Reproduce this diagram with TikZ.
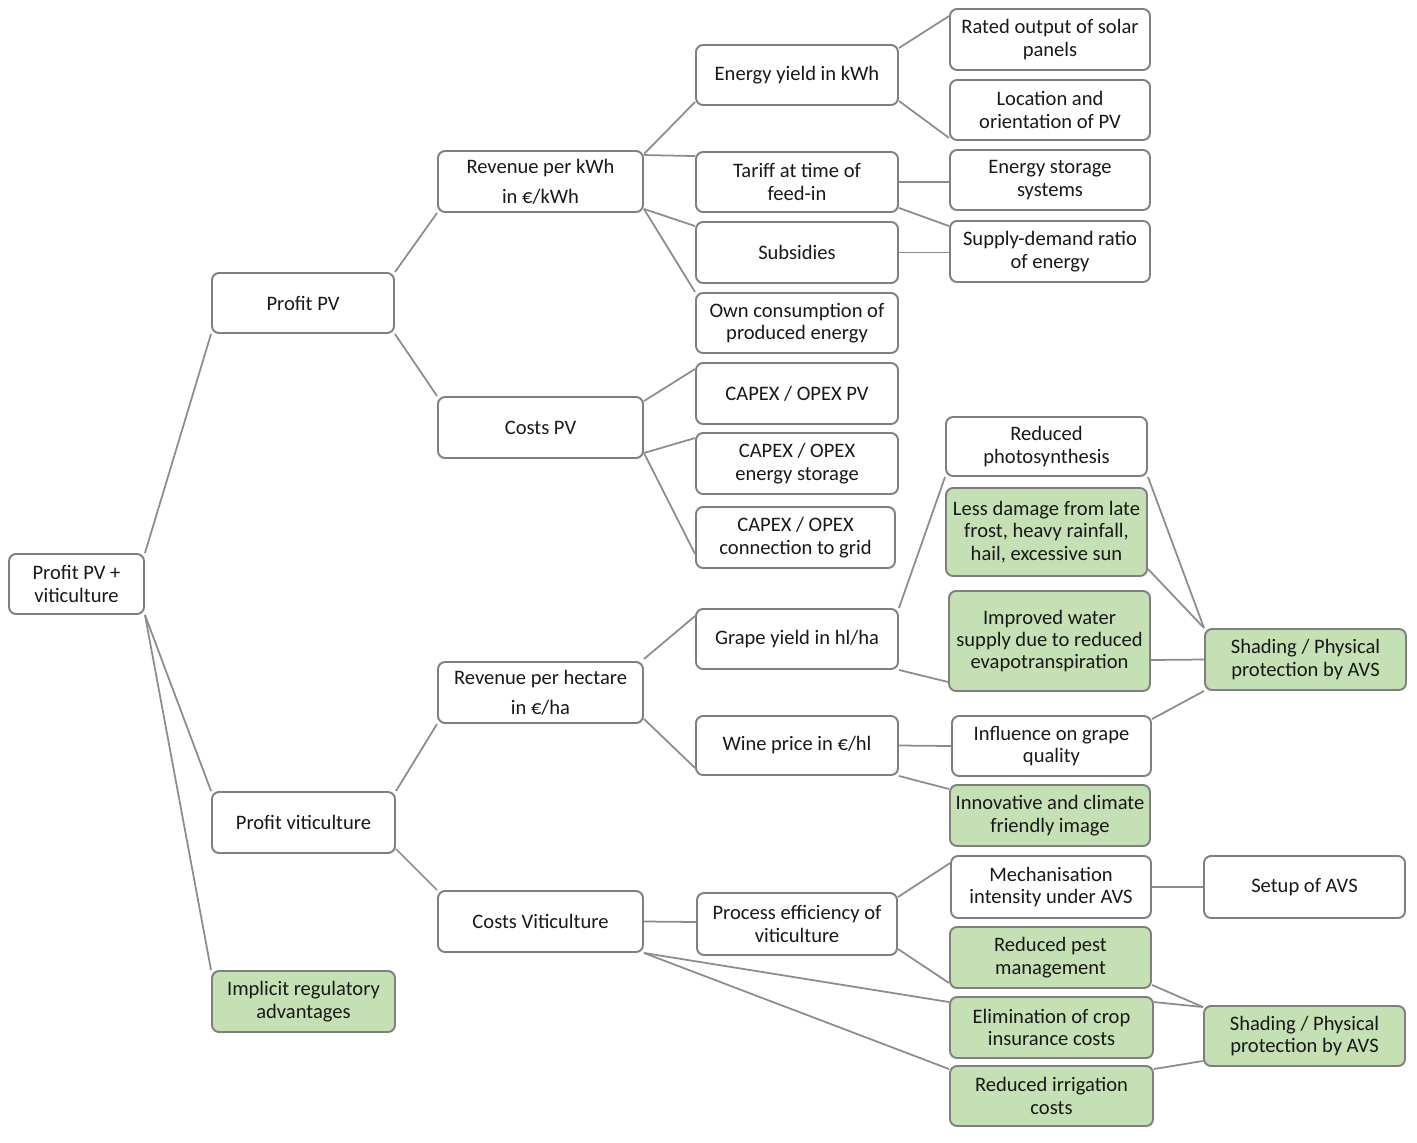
\documentclass[tikz,border=0pt]{standalone}
\usepackage{fontspec}
\setmainfont{Carlito}
\usetikzlibrary{calc}
\definecolor{boxgray}{HTML}{7F7F7F}
\definecolor{linegray}{HTML}{8C8C8C}
\definecolor{leafgreen}{HTML}{C5E0B4}
\tikzset{
    box/.style={draw=boxgray, line width=1.1pt, rounded corners=4pt, fill=white, align=center, inner sep=2pt, text=black!90, font=\fontsize{11.7}{12.7}\selectfont},
    gbox/.style={box, fill=leafgreen},
    link/.style={draw=linegray, line width=1pt}
}
\begin{document}
\begin{tikzpicture}[x=0.02cm,y=-0.02cm]
\useasboundingbox (0,0) rectangle (1417,1143);
% boxes: centre x / centre y / width / height / name / style / text
\foreach \x/\y/\w/\h/\n/\s/\t in {
    76.5/584/135/60/root/box/{Profit PV +\\viticulture},
    303/303/182/60/ppv/box/{Profit PV},
    303.5/822.5/183/61/pvit/box/{Profit viticulture},
    303.5/1001.5/183/61/impl/gbox/{Implicit regulatory\\advantages},
    540.5/181.5/205/61/revkwh/box/{Revenue per kWh\\[4.3pt]in €/kWh},
    540.5/427.5/205/61/costpv/box/{Costs PV},
    540.5/692.5/205/61/revha/box/{Revenue per hectare\\[4.3pt]in €/ha},
    540.5/921.5/205/61/costvit/box/{Costs Viticulture},
    797/75/202/60/eyield/box/{Energy yield in kWh},
    797/182/202/60/tariff/box/{Tariff at time of\\feed-in},
    797/252.5/202/61/subs/box/{Subsidies},
    797/323/202/60/owncons/box/{Own consumption of\\produced energy},
    797/393.5/202/61/capexpv/box/{CAPEX / OPEX PV},
    797/463.5/202/61/capexst/box/{CAPEX / OPEX\\energy storage},
    795.5/537.5/199/61/capexgrid/box/{CAPEX / OPEX\\connection to grid},
    797/639/202/60/grape/box/{Grape yield in hl/ha},
    797/745.5/202/59/wine/box/{Wine price in €/hl},
    797/924/200/62/proc/box/{Process efficiency of\\viticulture},
    1050/39.5/200/61/rated/box/{Rated output of solar\\panels},
    1050/110/200/60/location/box/{Location and\\orientation of PV},
    1050/180/200/60/storage/box/{Energy storage\\systems},
    1050/251.5/200/61/supply/box/{Supply-demand ratio\\of energy},
    1046.5/446.5/201/59/photo/box/{Reduced\\photosynthesis},
    1046.5/532/201/88/lessdmg/gbox/{Less damage from late\\frost, heavy rainfall,\\hail, excessive sun},
    1049.5/641/201/100/water/gbox/{Improved water\\supply due to reduced\\evapotranspiration},
    1051.5/746/199/60/influence/box/{Influence on grape\\quality},
    1050/815.5/200/61/innov/gbox/{Innovative and climate\\friendly image},
    1051/887/200/62/mech/box/{Mechanisation\\intensity under AVS},
    1050.5/957.5/201/61/pest/gbox/{Reduced pest\\management},
    1051.5/1027.5/203/61/elim/gbox/{Elimination of crop\\insurance costs},
    1051.5/1096/203/60/irrig/gbox/{Reduced irrigation\\costs},
    1305.5/659.5/201/61/shadeA/gbox/{Shading / Physical\\protection by AVS},
    1304.5/887/201/62/setup/box/{Setup of AVS},
    1304.5/1036/201/60/shadeB/gbox/{Shading / Physical\\protection by AVS}}{
    \node[\s, minimum width=\w*0.02cm, minimum height=\h*0.02cm] (\n) at (\x,\y) {\t};
}
% links: from anchor / shift / to anchor / shift
\foreach \a/\da/\b/\db in {
    root.north east/0/ppv.south west/0,
    root.south east/0/pvit.north west/0,
    root.south east/0/impl.north west/0,
    ppv.north east/0/revkwh.south west/0,
    ppv.south east/0/costpv.north west/0,
    pvit.north east/0/revha.south west/0,
    pvit.south east/-5/costvit.north west/0,
    revkwh.north east/4/eyield.south west/-4,
    revkwh.north east/5/tariff.north west/5,
    revkwh.south east/-4/subs.north west/5,
    revkwh.south east/-4/owncons.north west/0,
    eyield.north east/4/rated.north west/8,
    eyield.south east/-5/location.south west/-3,
    tariff.east/0/storage.west/2,
    tariff.south east/-5/supply.north west/6,
    subs.east/0/supply.west/1,
    costpv.north east/5/capexpv.north west/7,
    costpv.south east/-6/capexst.north west/6,
    costpv.south east/-6/capexgrid.south west/-15,
    revha.north east/-2/grape.north west/8,
    revha.south east/-5/wine.south west/-8,
    costvit.east/0/proc.west/-2,
    costvit.south east/0/elim.north west/6,
    costvit.south east/0/irrig.north west/4,
    grape.north east/0/photo.south west/0,
    grape.south east/0/water.south west/-10,
    wine.east/0/influence.west/0,
    wine.south east/0/innov.north west/5,
    photo.south east/0/shadeA.north west/0,
    lessdmg.south east/-8/shadeA.north west/0,
    water.east/19/shadeA.west/0,
    influence.north east/4/shadeA.south west/0,
    proc.north east/5/mech.north west/8,
    proc.south east/-7/pest.south west/-6,
    mech.east/0/setup.west/0,
    pest.south east/-4/shadeB.north west/2,
    elim.north east/6/shadeB.north west/2,
    irrig.north east/4/shadeB.south west/-6}{
    \draw[link] ($(\a)+(0,\da)$) -- ($(\b)+(0,\db)$);
}
\end{tikzpicture}
\end{document}
